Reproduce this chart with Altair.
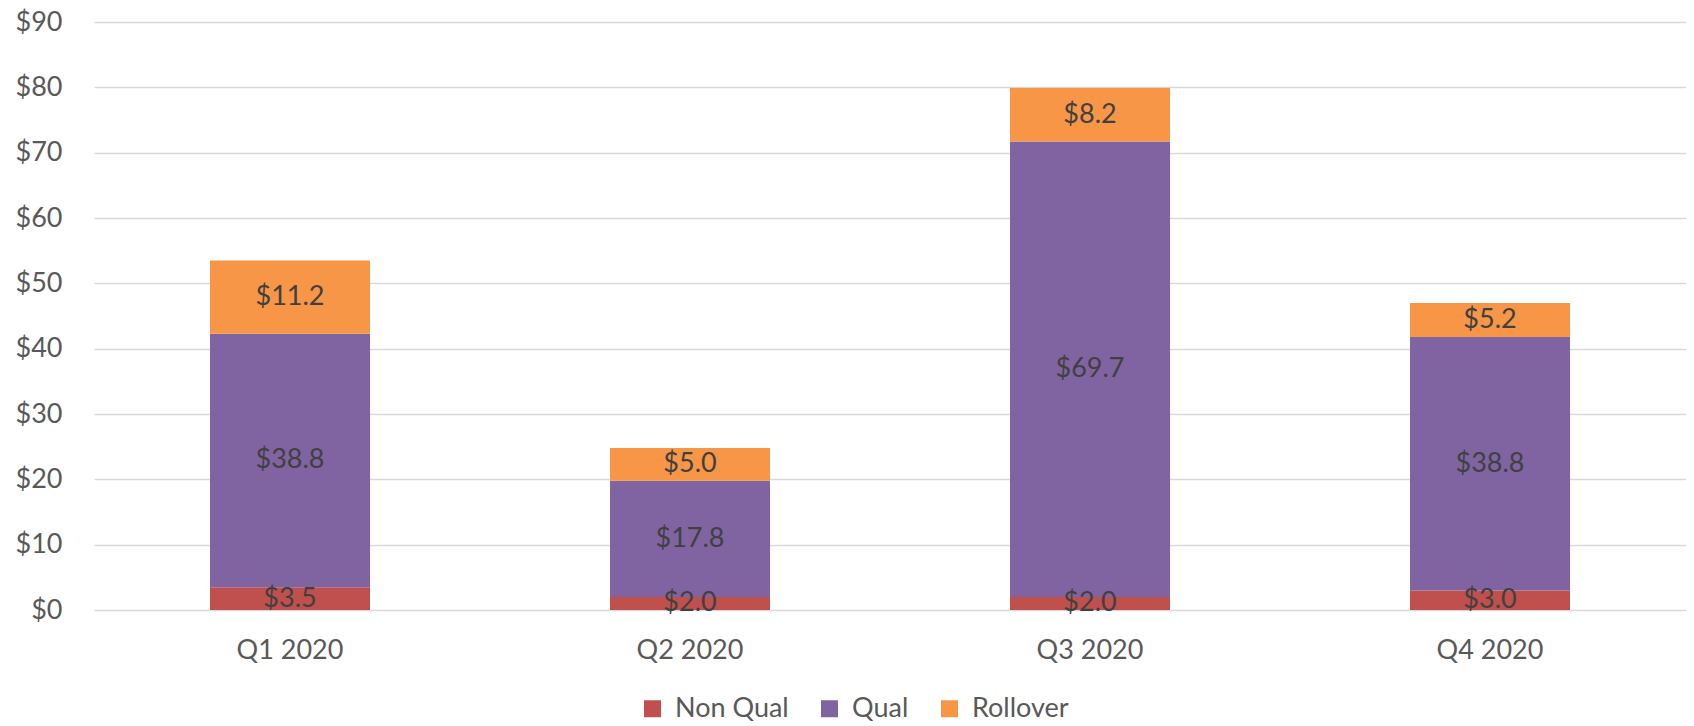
import altair as alt
import pandas as pd

quarters = ["Q1 2020", "Q2 2020", "Q3 2020", "Q4 2020"]
series = ["Non Qual", "Qual", "Rollover"]
non_qual = [3.5, 2.0, 2.0, 3.0]
qual = [38.8, 17.8, 69.7, 38.8]
rollover = [11.2, 5.0, 8.2, 5.2]
colors = ["#C0504D", "#8064A2", "#F79646"]
y_ticks = [0, 10, 20, 30, 40, 50, 60, 70, 80, 90]

rows = []
for s_i, (name, vals) in enumerate(zip(series, [non_qual, qual, rollover])):
    for q, v in zip(quarters, vals):
        rows.append({"quarter": q, "series": name, "value": v, "order": s_i})
df = pd.DataFrame(rows)

FONT = "Lato"
TXT = "#595959"
FS = 27

base = alt.Chart(df).transform_stack(
    stack="value",
    groupby=["quarter"],
    sort=[alt.SortField("order", order="ascending")],
    as_=["y0", "y1"],
).transform_calculate(
    mid="(datum.y0 + datum.y1) / 2",
    label="'$' + format(datum.value, '.1f')",
)

x = alt.X(
    "quarter:N",
    sort=quarters,
    scale=alt.Scale(paddingInner=0.6, paddingOuter=0.29),
    axis=alt.Axis(title=None, labelAngle=0, labelFont=FONT, labelFontSize=FS,
                  labelColor=TXT, domain=False, ticks=False, labelPadding=27),
)

yscale = alt.Scale(domain=[0, 90], nice=False)

bars = base.mark_bar().encode(
    x=x,
    y=alt.Y("y0:Q", scale=yscale,
            axis=alt.Axis(title=None, values=y_ticks, format="$.0f", labelFont=FONT,
                          labelFontSize=FS, labelColor=TXT, domain=False, ticks=False,
                          labelPadding=32, grid=True, gridColor="#D9D9D9", gridWidth=1.5)),
    y2="y1:Q",
    color=alt.Color(
        "series:N",
        scale=alt.Scale(domain=series, range=colors),
        legend=alt.Legend(title=None, orient="none", legendX=545, legendY=673,
                          direction="horizontal", symbolType="square", symbolSize=289,
                          symbolStrokeWidth=0, labelFont=FONT, labelFontSize=FS,
                          labelColor=TXT, labelOffset=9, columnPadding=27),
    ),
    order=alt.Order("order:Q"),
)

labels = base.mark_text(font=FONT, fontSize=FS, color="#404040", baseline="middle").encode(
    x=alt.X("quarter:N", sort=quarters),
    y=alt.Y("mid:Q", scale=yscale),
    text="label:N",
)

chart = alt.layer(bars, labels).properties(
    width=1592, height=588,
    padding={"left": 7, "top": 0, "right": 0, "bottom": 0},
).configure_view(stroke=None)

chart.save("out.html", embed_options={"renderer": "svg", "actions": False})
